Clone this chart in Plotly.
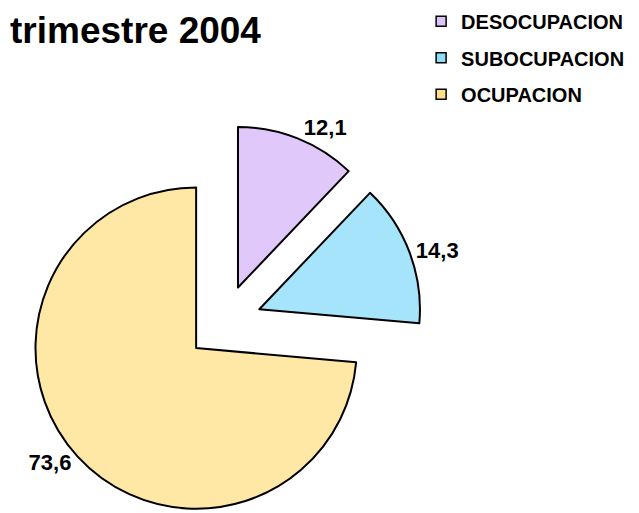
import plotly.graph_objects as go

categorias = ['DESOCUPACION', 'SUBOCUPACION', 'OCUPACION']
valores = [12.1, 14.3, 73.6]
colores = ['#E0C8FA', '#A6E4FB', '#FFE7A6']
colores_leyenda = ['#DCC4F8', '#8FDDF9', '#FFE08A']

FONT = 'Liberation Sans, Arial, sans-serif'

fig = go.Figure()

fig.add_trace(go.Pie(
    labels=categorias,
    values=valores,
    sort=False,
    direction='clockwise',
    rotation=0,
    pull=[0.235, 0.235, 0.235],
    marker=dict(colors=colores, line=dict(color='black', width=2)),
    texttemplate='%{value:.1f}',
    textposition='outside',
    textfont=dict(family=FONT, size=22, color='black', weight='bold'),
    showlegend=False,
    hoverinfo='label+value',
    domain=dict(x=[0.0275, 0.6485], y=[0.0, 0.7735]),
))

# legend entries (one group each so the rows can be spaced apart)
for nombre, color in zip(categorias, colores_leyenda):
    fig.add_trace(go.Scatter(
        x=[None], y=[None],
        mode='markers',
        name=nombre,
        legendgroup=nombre,
        marker=dict(symbol='square', size=10, color=color,
                    line=dict(color='black', width=1.5)),
    ))

fig.add_annotation(
    text='trimestre 2004',
    x=0.0, y=1.0,
    xref='paper', yref='paper',
    xanchor='left', yanchor='top',
    showarrow=False,
    font=dict(family=FONT, size=37, color='black', weight='bold'),
)

fig.update_layout(
    width=639,
    height=513,
    margin=dict(l=0, r=0, t=0, b=0, autoexpand=False),
    paper_bgcolor='white',
    plot_bgcolor='white',
    separators=',.',
    xaxis=dict(visible=False),
    yaxis=dict(visible=False),
    legend=dict(
        x=0.6465, y=1.012,
        xanchor='left', yanchor='top',
        font=dict(family=FONT, size=20, color='black', weight='bold'),
        tracegroupgap=7.5,
        bgcolor='rgba(0,0,0,0)',
    ),
)

fig.write_html('out.html')
